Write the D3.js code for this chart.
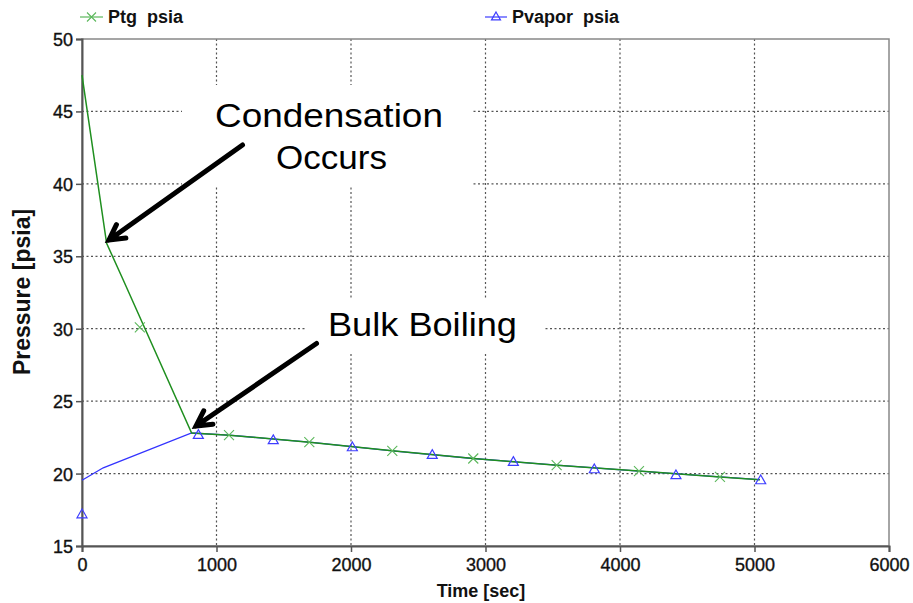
<!DOCTYPE html>
<html><head><meta charset="utf-8">
<script src="https://cdn.jsdelivr.net/npm/d3@7"></script>
<style>body{margin:0;background:#fff}svg{display:block;font-family:"Liberation Sans",Arial,sans-serif}</style>
</head><body><svg id="c" width="913" height="603"></svg>
<script>
// Data
const ptgLineT = [0, 183, 300, 815, 1093, 1690, 2307, 2909, 3529, 4141, 4743, 5040];
const ptgLineP = [47.5, 35.9, 33.5, 22.8, 22.65, 22.17, 21.57, 21.04, 20.58, 20.17, 19.77, 19.58];
const ptgMarkT = [430, 1093, 1690, 2307, 2909, 3529, 4141, 4743];
const ptgMarkP = [30.1, 22.65, 22.17, 21.57, 21.04, 20.58, 20.17, 19.77];
const vapLineT = [0, 158, 815, 1093, 1690, 2307, 2909, 3529, 4141, 4743, 5040];
const vapLineP = [19.54, 20.4, 22.8, 22.65, 22.17, 21.57, 21.04, 20.58, 20.17, 19.77, 19.58];
const vapMarkT = [0, 865, 1422, 2010, 2604, 3207, 3809, 4416, 5046];
const vapMarkP = [17.24, 22.72, 22.36, 21.87, 21.34, 20.86, 20.35, 19.94, 19.59];
const xTicks = [0, 1000, 2000, 3000, 4000, 5000, 6000];
const yTicks = [15, 20, 25, 30, 35, 40, 45, 50];
const seriesNames = ["Ptg  psia", "Pvapor  psia"];
const annotations = ["Condensation", "Occurs", "Bulk Boiling"];

const svg = d3.select("#c");
const L = 82, R = 889, T = 39, B = 546;
const x = d3.scaleLinear().domain([0, 6000]).range([L, R]);
const y = d3.scaleLinear().domain([15, 50]).range([B, T]);

// grid
const grid = svg.append("g").attr("stroke", "#555").attr("stroke-width", 1.2).attr("stroke-dasharray", "2,2.5");
xTicks.filter(d => d > 0 && d < 6000).forEach(d => grid.append("line").attr("x1", x(d)).attr("x2", x(d)).attr("y1", T).attr("y2", B));
yTicks.filter(d => d > 15 && d < 50).forEach(d => grid.append("line").attr("x1", L).attr("x2", R).attr("y1", y(d)).attr("y2", y(d)));

// frame
svg.append("rect").attr("x", L).attr("y", T).attr("width", R - L).attr("height", B - T).attr("fill", "none").attr("stroke", "#888").attr("stroke-width", 1.5);

// annotation boxes (white backgrounds)
svg.append("rect").attr("x", 182).attr("y", 85).attr("width", 290).attr("height", 101).attr("fill", "#fff");
svg.append("rect").attr("x", 305).attr("y", 300).attr("width", 240).attr("height", 53).attr("fill", "#fff");

// axes
const xAxis = svg.append("g").attr("transform", `translate(0,${B})`)
  .call(d3.axisBottom(x).tickValues(xTicks).tickSize(6).tickPadding(6).tickFormat(d3.format("d")));
const yAxis = svg.append("g").attr("transform", `translate(${L},0)`)
  .call(d3.axisLeft(y).tickValues(yTicks).tickSize(6).tickPadding(3).tickFormat(d3.format("d")));
[xAxis, yAxis].forEach(a => {
  a.select(".domain").attr("stroke", "#555").attr("stroke-width", 2);
  a.selectAll(".tick line").attr("stroke", "#555").attr("stroke-width", 1.5);
  a.selectAll("text").attr("font-size", 18).attr("fill", "#111").attr("stroke", "#111").attr("stroke-width", 0.35)
    .attr("font-family", "Liberation Sans, Arial");
});
yAxis.selectAll("text").attr("dy", "0.36em");

// axis titles
svg.append("text").attr("x", 481).attr("y", 597).attr("text-anchor", "middle").attr("font-size", 18).attr("font-weight", "bold").attr("fill", "#111").text("Time [sec]");
svg.append("text").attr("transform", "translate(30,292) rotate(-90)").attr("text-anchor", "middle").attr("font-size", 23).attr("font-weight", "bold").attr("fill", "#111").text("Pressure [psia]");

// lines
const line = d3.line().x(d => x(d[0])).y(d => y(d[1]));
const vapLine = vapLineT.map((t, i) => [t, vapLineP[i]]);
const ptgLine = ptgLineT.map((t, i) => [t, ptgLineP[i]]);
svg.append("path").attr("d", line(vapLine)).attr("fill", "none").attr("stroke", "#3333ff").attr("stroke-width", 1.3);
svg.append("path").attr("d", line(ptgLine)).attr("fill", "none").attr("stroke", "#1f8f1f").attr("stroke-width", 1.5);

// markers
const green = "#5cb85c", blue = "#3d3dff";
function cross(g, cx, cy, s, col) {
  g.append("path").attr("d", `M${cx - s},${cy - s}L${cx + s},${cy + s}M${cx - s},${cy + s}L${cx + s},${cy - s}`)
    .attr("stroke", col).attr("stroke-width", 1.1).attr("fill", "none");
}
function tri(g, cx, cy, s, col) {
  g.append("path").attr("d", `M${cx},${cy - s}L${cx + s},${cy + s * 0.75}L${cx - s},${cy + s * 0.75}Z`)
    .attr("stroke", col).attr("stroke-width", 1.2).attr("fill", "none");
}
const mk = svg.append("g");
ptgMarkT.forEach((t, i) => cross(mk, x(t), y(ptgMarkP[i]), 5, green));
vapMarkT.forEach((t, i) => tri(mk, x(vapMarkT[i]), y(vapMarkP[i]) + 0.5, 5, blue));

// legend
const lg = svg.append("g");
lg.append("line").attr("x1", 80).attr("x2", 103).attr("y1", 17).attr("y2", 17).attr("stroke", green).attr("stroke-width", 1.2);
cross(lg, 91.5, 17, 4.5, green);
lg.append("text").attr("x", 108).attr("y", 23).attr("font-size", 18).attr("font-weight", "bold").attr("fill", "#111").style("white-space", "pre").text(seriesNames[0]);
lg.append("line").attr("x1", 485).attr("x2", 507).attr("y1", 17).attr("y2", 17).attr("stroke", blue).attr("stroke-width", 1.2);
tri(lg, 496, 16.5, 4.5, blue);
lg.append("text").attr("x", 512).attr("y", 23).attr("font-size", 18).attr("font-weight", "bold").attr("fill", "#111").style("white-space", "pre").text(seriesNames[1]);

// annotations text (horizontally stretched like the original)
function stretchedText(str, x0, yb, width) {
  const t = svg.append("text").attr("font-size", 33).attr("fill", "#000").text(str);
  const w = t.node().getComputedTextLength();
  t.attr("transform", `translate(${x0},${yb}) scale(${width / w},1)`);
}
stretchedText(annotations[0], 215, 127, 228);
stretchedText(annotations[1], 276, 168.5, 111);
stretchedText(annotations[2], 328, 336, 189);

// arrows
function arrow(x1, y1, x2, y2) {
  const ang = Math.atan2(y2 - y1, x2 - x1), h = 17, a = 0.5;
  const p1 = [x2 - h * Math.cos(ang - a), y2 - h * Math.sin(ang - a)];
  const p2 = [x2 - h * Math.cos(ang + a), y2 - h * Math.sin(ang + a)];
  svg.append("path").attr("d", `M${x1},${y1}L${x2},${y2}M${p1[0]},${p1[1]}L${x2},${y2}L${p2[0]},${p2[1]}`)
    .attr("stroke", "#000").attr("stroke-width", 5).attr("fill", "none").attr("stroke-linecap", "round").attr("stroke-linejoin", "miter");
}
arrow(242.5, 145, 109, 240);
arrow(316.5, 343.5, 196, 426);
</script></body></html>
